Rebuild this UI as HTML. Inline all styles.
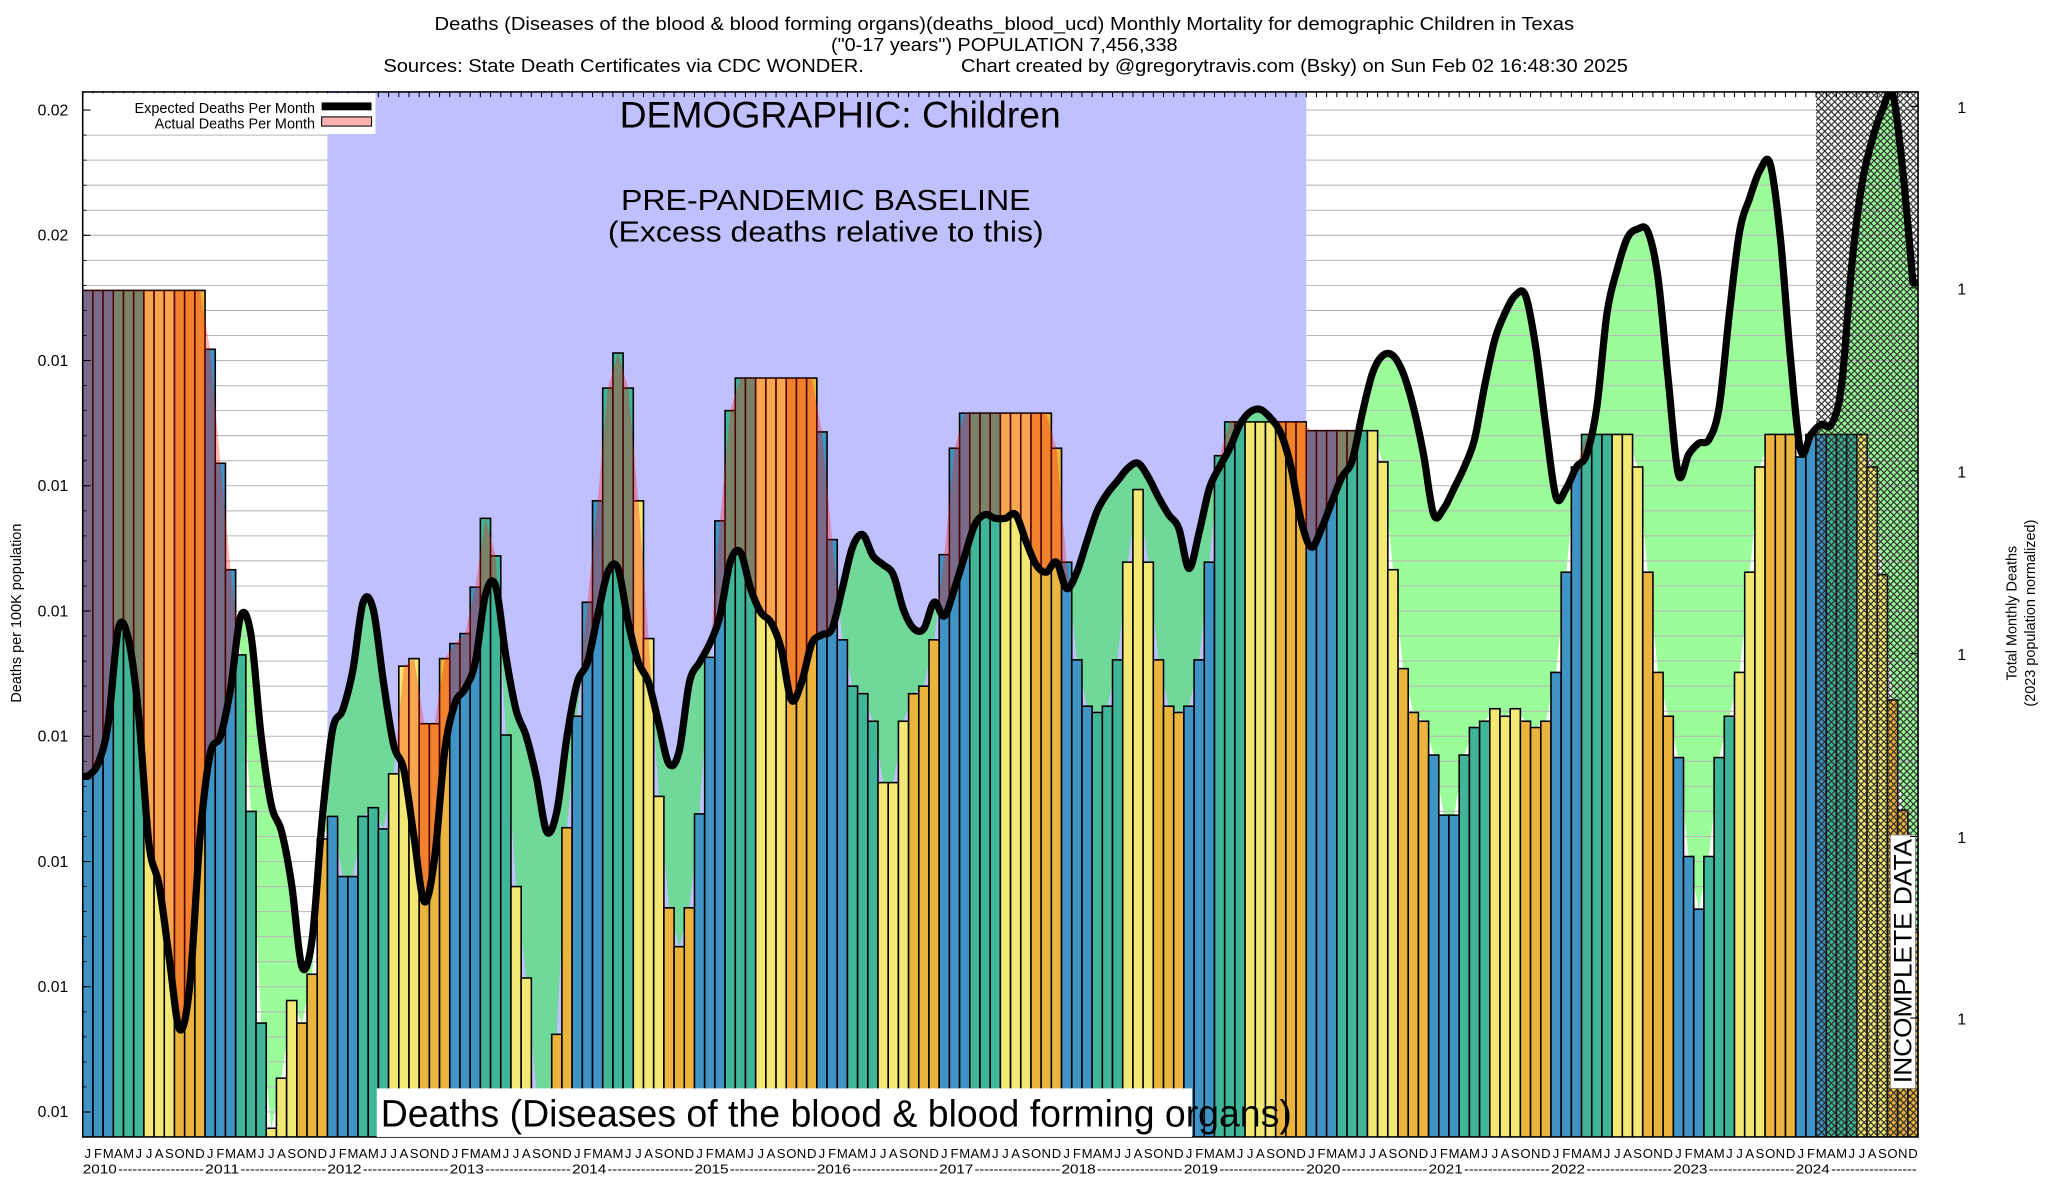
<!DOCTYPE html>
<html>
<head>
<meta charset="utf-8">
<style>
html,body{margin:0;padding:0;background:#fff;}
svg{display:block;}
text{font-family:"Liberation Sans",Arial,sans-serif;}
</style>
</head>
<body>
<svg id="chart" xmlns="http://www.w3.org/2000/svg" width="2048" height="1200" viewBox="0 0 1560 914">
  <defs>
    <pattern id="hatch" width="5" height="5" patternUnits="userSpaceOnUse">
      <path d="M0,0 L5,5 M5,0 L0,5 M-1,4 L1,6 M4,-1 L6,1" stroke="#2a2a2a" stroke-width="0.9"/>
    </pattern>
    <clipPath id="plotClip"><rect x="63" y="70" width="1398" height="796"/></clipPath>
    <clipPath id="bandClip"><rect id="bandClipRect" x="249.4" y="70" width="745.6" height="796"/></clipPath>
    <clipPath id="outBandClip"><path id="outBandPath" d=""/></clipPath>
    <clipPath id="belowCurve"><path id="belowCurvePath" d=""/></clipPath>
    <clipPath id="aboveCurve"><path id="aboveCurvePath" d=""/></clipPath>
  </defs>

  <g>
    <text x="765" y="23" font-size="14" text-anchor="middle" textLength="868" lengthAdjust="spacingAndGlyphs">Deaths (Diseases of the blood &amp; blood forming organs)(deaths_blood_ucd) Monthly Mortality for demographic Children in Texas</text>
    <text x="765" y="39" font-size="14" text-anchor="middle" textLength="264" lengthAdjust="spacingAndGlyphs">("0-17 years") POPULATION 7,456,338</text>
    <text x="292" y="55" font-size="14" textLength="366" lengthAdjust="spacingAndGlyphs">Sources: State Death Certificates via CDC WONDER.</text>
    <text x="732" y="55" font-size="14" textLength="508" lengthAdjust="spacingAndGlyphs">Chart created by @gregorytravis.com (Bsky) on Sun Feb 02 16:48:30 2025</text>
  </g>

  <g clip-path="url(#plotClip)">
    <rect x="63" y="70" width="1398" height="796" fill="#fff"/>
    <g clip-path="url(#outBandClip)"><g clip-path="url(#belowCurve)"><path id="greenOut" fill="#9afd9a"/></g></g>
    <g id="grid"></g>
    <rect id="band" x="249.4" y="70" width="745.6" height="796" fill="#c0c0ff"/>
    <g clip-path="url(#bandClip)"><g clip-path="url(#belowCurve)"><path id="greenIn" fill="#70d898"/></g></g>
    <g id="bars"></g>
    <g clip-path="url(#aboveCurve)"><path id="pinkArea" fill="rgb(254,16,6)" fill-opacity="0.31"/></g>
    <rect id="hatchRect" x="1383" y="70" width="78" height="796" fill="url(#hatch)"/>
    <path id="expLine" fill="none" stroke="#000" stroke-width="5.5" stroke-linejoin="round" stroke-linecap="round"/>
  </g>

  <g id="topTicks"></g>
  <rect x="63" y="70" width="1398" height="796" fill="none" stroke="#000" stroke-width="1.2"/>

  <g>
    <rect x="64" y="71" width="222" height="31" fill="#fff"/>
    <text x="240" y="86" font-size="11" text-anchor="end">Expected Deaths Per Month</text>
    <rect x="245" y="78" width="38" height="6" fill="#000"/>
    <text x="240" y="98" font-size="11" text-anchor="end">Actual Deaths Per Month</text>
    <rect x="245" y="89" width="38" height="7" fill="#ffb0b0" stroke="#000" stroke-width="0.8"/>
  </g>

  <text x="640" y="97" font-size="28" text-anchor="middle" textLength="336" lengthAdjust="spacingAndGlyphs">DEMOGRAPHIC: Children</text>
  <text x="629" y="160" font-size="22" text-anchor="middle" textLength="312" lengthAdjust="spacingAndGlyphs">PRE-PANDEMIC BASELINE</text>
  <text x="629" y="184" font-size="22" text-anchor="middle" textLength="332" lengthAdjust="spacingAndGlyphs">(Excess deaths relative to this)</text>

  <rect x="287" y="829" width="621" height="37" fill="#fff"/>
  <text x="290" y="858" font-size="29" textLength="694" lengthAdjust="spacingAndGlyphs">Deaths (Diseases of the blood &amp; blood forming organs)</text>

  <g>
    <rect x="1440" y="636" width="19" height="193" fill="#fff" stroke="#888" stroke-width="0.6"/>
    <text x="0" y="0" font-size="19" text-anchor="middle" transform="translate(1456,732) rotate(-90)" textLength="186" lengthAdjust="spacingAndGlyphs">INCOMPLETE DATA</text>
  </g>

  <g id="yAxis"></g>
  <text x="0" y="0" font-size="11" text-anchor="middle" transform="translate(16,467) rotate(-90)">Deaths per 100K population</text>
  <g id="yAxisRight"></g>
  <text x="0" y="0" font-size="11" text-anchor="middle" transform="translate(1536,467) rotate(-90)">Total Monthly Deaths</text>
  <text x="0" y="0" font-size="11" text-anchor="middle" transform="translate(1550,467) rotate(-90)">(2023 population normalized)</text>
  <g id="xAxis"></g>
</svg>

<script>
const years = [2010,2011,2012,2013,2014,2015,2016,2017,2018,2019,2020,2021,2022,2023,2024];
const monthLetters = ["J","F","M","A","M","J","J","A","S","O","N","D"];
const yTickValues = [0.0085,0.0095,0.0105,0.0115,0.0125,0.0135,0.0145,0.0155,0.0165];
const yTickLabels = ["0.01","0.01","0.01","0.01","0.01","0.01","0.01","0.02","0.02"];
const rightTickValues = [0.00925,0.01070,0.01216,0.01362,0.01508,0.01653];
const rightTickLabels = ["1","1","1","1","1","1"];
const actual = [
0.01506,0.01506,0.01506,0.01506,0.01506,0.01506,0.01506,0.01506,0.01506,0.01506,0.01506,0.01506,
0.01459,0.01368,0.01283,0.01215,0.01090,0.00921,0.00837,0.00877,0.00939,0.00921,0.00960,0.01068,
0.01086,0.01038,0.01038,0.01086,0.01093,0.01076,0.01120,0.01206,0.01212,0.01160,0.01160,0.01212,
0.01224,0.01232,0.01269,0.01324,0.01294,0.01151,0.01030,0.00957,0.00867,0.00840,0.00912,0.01077,
0.01166,0.01257,0.01338,0.01428,0.01456,0.01428,0.01338,0.01228,0.01102,0.01013,0.00982,0.01013,
0.01088,0.01213,0.01322,0.01410,0.01436,0.01436,0.01436,0.01436,0.01436,0.01436,0.01436,0.01436,
0.01393,0.01307,0.01227,0.01190,0.01184,0.01162,0.01113,0.01113,0.01162,0.01184,0.01190,0.01227,
0.01295,0.01380,0.01408,0.01408,0.01408,0.01408,0.01408,0.01408,0.01408,0.01408,0.01408,0.01380,
0.01289,0.01211,0.01174,0.01169,0.01174,0.01211,0.01289,0.01347,0.01289,0.01211,0.01174,0.01169,
0.01174,0.01211,0.01289,0.01374,0.01401,0.01401,0.01401,0.01401,0.01401,0.01401,0.01401,0.01401,
0.01394,0.01394,0.01394,0.01394,0.01394,0.01394,0.01394,0.01369,0.01283,0.01204,0.01169,0.01162,
0.01135,0.01087,0.01087,0.01135,0.01157,0.01162,0.01172,0.01166,0.01172,0.01162,0.01157,0.01162,
0.01201,0.01281,0.01365,0.01391,0.01391,0.01391,0.01391,0.01391,0.01365,0.01281,0.01201,0.01166,
0.01133,0.01054,0.01012,0.01054,0.01133,0.01166,0.01201,0.01281,0.01365,0.01391,0.01391,0.01391,
0.01373,0.01391,0.01391,0.01391,0.01391,0.01391,0.01391,0.01365,0.01279,0.01179,0.01091,0.00996
];
const expected = [
0.01118,0.01128,0.01160,0.01236,0.01227,0.01166,0.01064,0.01031,0.00972,0.00916,0.00951,0.01069,
0.01136,0.01150,0.01188,0.01246,0.01231,0.01150,0.01095,0.01074,0.01031,0.00966,0.00988,0.01085,
0.01155,0.01171,0.01203,0.01257,0.01251,0.01193,0.01143,0.01123,0.01069,0.01018,0.01052,0.01138,
0.01176,0.01188,0.01209,0.01263,0.01270,0.01214,0.01171,0.01150,0.01117,0.01074,0.01090,0.01150,
0.01193,0.01209,0.01246,0.01281,0.01284,0.01241,0.01209,0.01193,0.01160,0.01128,0.01138,0.01193,
0.01209,0.01224,0.01246,0.01289,0.01297,0.01268,0.01249,0.01241,0.01220,0.01179,0.01193,0.01224,
0.01231,0.01236,0.01268,0.01301,0.01311,0.01294,0.01287,0.01279,0.01251,0.01236,0.01236,0.01257,
0.01246,0.01268,0.01294,0.01319,0.01327,0.01324,0.01324,0.01327,0.01306,0.01287,0.01281,0.01289,
0.01268,0.01281,0.01306,0.01330,0.01344,0.01354,0.01364,0.01368,0.01357,0.01341,0.01327,0.01316,
0.01284,0.01313,0.01348,0.01365,0.01380,0.01399,0.01409,0.01411,0.01404,0.01392,0.01365,0.01322,
0.01301,0.01316,0.01337,0.01357,0.01370,0.01408,0.01440,0.01454,0.01454,0.01440,0.01413,0.01375,
0.01327,0.01332,0.01348,0.01365,0.01387,0.01430,0.01467,0.01488,0.01502,0.01502,0.01461,0.01397,
0.01341,0.01348,0.01365,0.01375,0.01413,0.01488,0.01523,0.01548,0.01555,0.01553,0.01516,0.01435,
0.01359,0.01375,0.01384,0.01387,0.01413,0.01488,0.01553,0.01580,0.01602,0.01607,0.01548,0.01451,
0.01378,0.01391,0.01399,0.01399,0.01430,0.01526,0.01591,0.01626,0.01650,0.01663,0.01602,0.01512
];

const NS = "http://www.w3.org/2000/svg";
const X0 = 63, X1 = 1461, Y0 = 70, Y1 = 866;
const nMonths = actual.length;
const MW = (X1 - X0) / (years.length * 12);
function xLeft(i){ return X0 + MW * i; }
function xCenter(i){ return X0 + MW * (i + 0.5); }
function yScale(v){ return 847 - (v - 0.0085) * 95400; }
function mk(tag, attrs, parent){
  const e = document.createElementNS(NS, tag);
  for (const k in attrs) e.setAttribute(k, attrs[k]);
  if (parent) parent.appendChild(e);
  return e;
}
const barColors = ["#3f93c5","#3f93c5","#3f93c5","#40b597","#40b597","#40b597","#f2e873","#f2e873","#f2e873","#ebb43f","#ebb43f","#ebb43f"];

// band & hatch placement from month scale
const bx0 = xLeft(24), bx1 = xLeft(120);
document.getElementById("band").setAttribute("x", bx0);
document.getElementById("band").setAttribute("width", bx1 - bx0);
document.getElementById("bandClipRect").setAttribute("x", bx0);
document.getElementById("bandClipRect").setAttribute("width", bx1 - bx0);
document.getElementById("outBandPath").setAttribute("d", "M" + X0 + "," + Y0 + " H" + bx0 + " V" + Y1 + " H" + X0 + " Z M" + bx1 + "," + Y0 + " H" + X1 + " V" + Y1 + " H" + bx1 + " Z");
const hx = xLeft(170);
document.getElementById("hatchRect").setAttribute("x", hx);
document.getElementById("hatchRect").setAttribute("width", X1 - hx);

// gridlines
const grid = document.getElementById("grid");
for (let k = -1; k <= 45; k++) {
  const gy = yScale(0.0085 + k * 0.0002);
  if (gy < Y0 || gy > Y1) continue;
  const gl = mk("line", {x1: X0, x2: X1, y1: gy, y2: gy, stroke: "#b8b8b8", "stroke-width": 0.8}, grid);
  
  
}

// expected curve (Catmull-Rom)
const pts = expected.map((v, i) => [xCenter(i), yScale(v)]);
let curve = "M" + X0 + "," + pts[0][1].toFixed(2) + " L" + pts[0][0].toFixed(2) + "," + pts[0][1].toFixed(2);
for (let i = 0; i < pts.length - 1; i++) {
  const p0 = pts[Math.max(0, i - 1)], p1 = pts[i], p2 = pts[i + 1], p3 = pts[Math.min(pts.length - 1, i + 2)];
  const c1x = p1[0] + (p2[0] - p0[0]) / 6, c1y = p1[1] + (p2[1] - p0[1]) / 6;
  const c2x = p2[0] - (p3[0] - p1[0]) / 6, c2y = p2[1] - (p3[1] - p1[1]) / 6;
  curve += " C" + c1x.toFixed(2) + "," + c1y.toFixed(2) + " " + c2x.toFixed(2) + "," + c2y.toFixed(2) + " " + p2[0].toFixed(2) + "," + p2[1].toFixed(2);
}
const last = pts[pts.length - 1];
curve += " L" + X1 + "," + last[1].toFixed(2);
document.getElementById("expLine").setAttribute("d", curve);
document.getElementById("belowCurvePath").setAttribute("d", curve + " L" + X1 + "," + (Y1 + 5) + " L" + X0 + "," + (Y1 + 5) + " Z");
document.getElementById("aboveCurvePath").setAttribute("d", curve + " L" + X1 + "," + (Y0 - 10) + " L" + X0 + "," + (Y0 - 10) + " Z");

// area between expected and actual
let back = " L" + X1 + "," + yScale(actual[nMonths - 1]).toFixed(2);
for (let i = nMonths - 1; i >= 0; i--) back += " L" + xCenter(i).toFixed(2) + "," + yScale(actual[i]).toFixed(2);
back += " L" + X0 + "," + yScale(actual[0]).toFixed(2) + " Z";
const area = curve + back;
document.getElementById("greenOut").setAttribute("d", area);
document.getElementById("greenIn").setAttribute("d", area);
document.getElementById("pinkArea").setAttribute("d", area);

// bars
const barsG = document.getElementById("bars");
for (let i = 0; i < nMonths; i++) {
  const top = yScale(actual[i]);
  const r = mk("rect", {x: xLeft(i).toFixed(2), y: top.toFixed(2), width: MW.toFixed(2), height: (Y1 + 2 - top).toFixed(2), fill: barColors[i % 12], stroke: "#000", "stroke-width": 1.2}, barsG);
  
  
}

// top ticks
const tt = document.getElementById("topTicks");
for (let i = 0; i <= nMonths; i++) {
  mk("line", {x1: xLeft(i), x2: xLeft(i), y1: Y0, y2: Y0 + 4, stroke: "#000", "stroke-width": 0.8}, tt);
}

// left y axis
const ya = document.getElementById("yAxis");
for (let k = 0; k < yTickValues.length; k++) {
  const ty = yScale(yTickValues[k]);
  mk("line", {x1: X0, x2: X0 + 6, y1: ty, y2: ty, stroke: "#000", "stroke-width": 0.8}, ya);
  const t = mk("text", {x: 52, y: ty + 4, "font-size": 12, "text-anchor": "end"}, ya);
  t.textContent = yTickLabels[k];
  
  
}
for (let k = -1; k <= 45; k++) {
  const gy = yScale(0.0085 + k * 0.0002);
  if (gy < Y0 || gy > Y1) continue;
  mk("line", {x1: X0, x2: X0 + 3, y1: gy, y2: gy, stroke: "#000", "stroke-width": 0.6}, ya);
}

// right y axis
const yr = document.getElementById("yAxisRight");
for (let k = 0; k < rightTickValues.length; k++) {
  const ty = yScale(rightTickValues[k]);
  mk("line", {x1: X1 - 6, x2: X1, y1: ty, y2: ty, stroke: "#000", "stroke-width": 0.8}, yr);
  const t = mk("text", {x: 1491, y: ty + 5, "font-size": 12}, yr);
  t.textContent = rightTickLabels[k];
  
  
}

// x axis
const xa = document.getElementById("xAxis");
for (let i = 0; i < nMonths; i++) {
  const t = mk("text", {x: xCenter(i).toFixed(2), y: 882, "font-size": 10, "text-anchor": "middle"}, xa);
  t.textContent = monthLetters[i % 12];
  
  
}
for (let k = 0; k < years.length; k++) {
  const x = xLeft(k * 12);
  const t = mk("text", {x: x, y: 894, "font-size": 10, textLength: 26, lengthAdjust: "spacingAndGlyphs"}, xa);
  t.textContent = String(years[k]);
  
  
  const d = mk("text", {x: x + 27, y: 894, "font-size": 10, textLength: (12 * MW - 28).toFixed(1), lengthAdjust: "spacingAndGlyphs"}, xa);
  d.textContent = "------------------";
  
  
}
</script>
</body>
</html>
